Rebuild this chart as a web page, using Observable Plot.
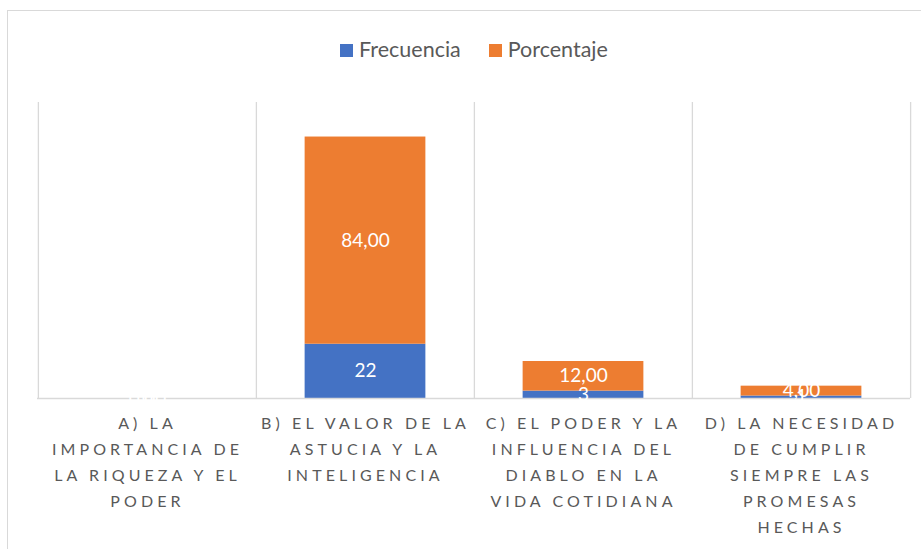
<!DOCTYPE html>
<html><head><meta charset="utf-8">
<script src="https://cdn.jsdelivr.net/npm/d3@7"></script>
<script src="https://cdn.jsdelivr.net/npm/@observablehq/plot@0.6"></script>
<style>
html,body{margin:0;padding:0;background:#fff;}
#frame{position:absolute;left:7px;top:10px;width:921px;height:545px;border-left:1px solid #d9d9d9;border-top:1px solid #d9d9d9;box-sizing:border-box;overflow:hidden;}
#legend{height:70px;display:flex;justify-content:center;align-items:center;gap:28px;font-family:Lato,"Liberation Sans",sans-serif;font-size:21.5px;color:#595959;padding-top:6px;padding-left:12px;box-sizing:border-box;}
#legend span.sw{display:inline-block;width:13px;height:13px;margin-right:6px;vertical-align:middle;position:relative;top:-1px;}
#chart svg{display:block;}
</style></head>
<body>
<div id="frame">
  <div id="legend"></div>
  <div id="chart"></div>
</div>
<script>
const categories = [
  "A) LA\nIMPORTANCIA DE\nLA RIQUEZA Y EL\nPODER",
  "B) EL VALOR DE LA\nASTUCIA Y LA\nINTELIGENCIA",
  "C) EL PODER Y LA\nINFLUENCIA DEL\nDIABLO EN LA\nVIDA COTIDIANA",
  "D) LA NECESIDAD\nDE CUMPLIR\nSIEMPRE LAS\nPROMESAS\nHECHAS"
];
const seriesNames = ["Frecuencia", "Porcentaje"];
const frecuencia = [0, 22, 3, 1];
const porcentaje = [0.00, 84.00, 12.00, 4.00];
const colors = ["#4472C4", "#ED7D31"];

const fmt = [v => String(v), v => v.toFixed(2).replace(".", ",")];
const table = [];
categories.forEach((c, i) => {
  table.push({cat: c, series: seriesNames[0], value: frecuencia[i], label: fmt[0](frecuencia[i])});
  table.push({cat: c, series: seriesNames[1], value: porcentaje[i], label: fmt[1](porcentaje[i])});
});

// legend
const leg = document.getElementById("legend");
seriesNames.forEach((s, i) => {
  const d = document.createElement("div");
  d.innerHTML = `<span class="sw" style="background:${colors[i]}"></span>${s}`;
  leg.appendChild(d);
});

const W = 913, H = 468, mL = 29, mR = 11, mT = 21, mB = 151;
const band = (W - mL - mR) / categories.length;
const inset = (band - 121) / 2;

const plot = Plot.plot({
  width: W, height: H,
  marginLeft: mL, marginRight: mR, marginTop: mT, marginBottom: mB,
  style: {fontFamily: "Lato, 'Liberation Sans', sans-serif", background: "#fff"},
  x: {domain: categories, padding: 0, label: null},
  y: {domain: [0, 120], axis: null},
  color: {domain: seriesNames, range: colors},
  marks: [
    Plot.ruleX(categories, {x: d => d, dx: -band / 2, stroke: "#d9d9d9", strokeWidth: 1.3}),
    Plot.ruleX([categories[categories.length - 1]], {x: d => d, dx: band / 2, stroke: "#d9d9d9", strokeWidth: 1.3}),
    Plot.barY(table, {x: "cat", y: "value", fill: "series", order: seriesNames, insetLeft: inset, insetRight: inset}),
    Plot.ruleY([0], {stroke: "#d9d9d9", strokeWidth: 1.5}),
    Plot.text(table, Plot.stackY({x: "cat", y: "value", z: "series", order: seriesNames, text: "label", fill: "white", fontSize: 19})),
    Plot.axisX({tickSize: 0, tickPadding: 12, lineAnchor: "top", lineHeight: 1.63, fontSize: 16, fill: "#595959", label: null})
  ]
});
plot.querySelectorAll("g[aria-label='x-axis tick label'] text").forEach(t => t.style.letterSpacing = "4.1px");
document.getElementById("chart").appendChild(plot);
</script>
</body></html>
